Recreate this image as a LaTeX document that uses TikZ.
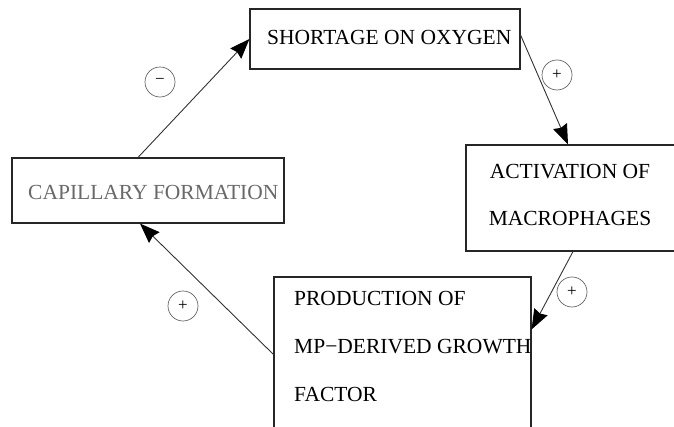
\documentclass[tikz,border=0pt]{standalone}
\usepackage{fontspec}
\setmainfont{Liberation Serif}
\usetikzlibrary{arrows.meta}
\definecolor{edgegray}{RGB}{50,50,50}
\definecolor{txtgray}{RGB}{105,105,105}
\definecolor{signgray}{RGB}{100,100,100}
\tikzset{
  box/.style={draw=black!85, line width=1.1pt, rectangle, inner sep=0pt},
  lbl/.style={anchor=west, inner sep=0pt, font=\fontsize{21.5}{24}\selectfont},
  link/.style={draw=edgegray, line width=0.9pt, -{Stealth[length=20pt,width=15pt,inset=2pt,color=black]}},
  sign/.style={circle, draw=signgray, line width=0.7pt, minimum size=30pt, inner sep=0pt, font=\fontsize{17}{17}\selectfont}
}
\begin{document}
\begin{tikzpicture}[x=1pt,y=1pt]
\useasboundingbox (0,0) rectangle (674,427);
\clip (0,0) rectangle (674,427);
% boxes
\node[box, minimum width=270pt, minimum height=60pt] (top) at (385,388) {};
\node[box, minimum width=272pt, minimum height=65pt] (cap) at (148,236.5) {};
\node[box, minimum width=224pt, minimum height=106pt] (act) at (578,229) {};
\node[box, minimum width=257pt, minimum height=183pt] (prod) at (402.5,58.5) {};
% texts
\node[lbl] (ttop) at (267,390) {SHORTAGE ON OXYGEN};
\node[lbl, text=txtgray] (tcap) at (28,235) {CAPILLARY FORMATION};
\node[lbl, anchor=center] (tact1) at (570,255) {ACTIVATION OF};
\node[lbl, anchor=center] (tact2) at (570,209) {MACROPHAGES};
\node[lbl] (tprod1) at (294,129) {PRODUCTION OF};
\node[lbl] (tprod2) at (294,80) {MP−DERIVED GROWTH};
\node[lbl] (tprod3) at (294,33) {FACTOR};
% connectors
\draw[link] ([xshift=-10pt]cap.north) -- (top.west);
\draw[link] ([yshift=4pt]top.east) -- ([xshift=-10pt]act.north);
\draw[link] ([xshift=-5pt]act.south) -- ([yshift=-53pt]prod.north east);
\draw[link] ([yshift=-78pt]prod.north west) -- ([xshift=-8pt]cap.south);
% signs
\node[sign] (s1) at (160,345) {\raisebox{1.5pt}{−}};
\node[sign] (s2) at (557,352) {+};
\node[sign] (s3) at (572,135) {+};
\node[sign] (s4) at (183,121) {+};
\end{tikzpicture}
\end{document}
